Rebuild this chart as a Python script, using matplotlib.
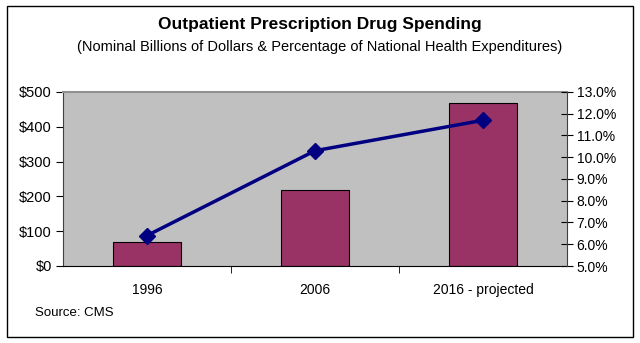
import numpy as np
import matplotlib.pyplot as plt
from matplotlib.patches import Rectangle
from matplotlib.ticker import FuncFormatter

plt.rcParams['font.family'] = ['Liberation Sans', 'DejaVu Sans']

years = ['1996', '2006', '2016 - projected']
spending = [68, 217, 469]          # nominal billions of dollars
share = [6.4, 10.3, 11.7]          # % of national health expenditures

fig = plt.figure(figsize=(6.4, 3.43), dpi=100)
fig.patches.append(Rectangle((7 / 640, 6 / 343), 626 / 640, 331 / 343,
                             transform=fig.transFigure, fill=False,
                             edgecolor='black', linewidth=1.0))

ax = fig.add_axes([63 / 640, 77 / 343, 504 / 640, 174 / 343])
ax.set_facecolor('#C0C0C0')
x = np.arange(len(years))
ax.bar(x, spending, width=0.41, color='#993366', edgecolor='black', linewidth=0.8, zorder=2)
ax.set_xlim(-0.5, 2.5)
ax.set_ylim(0, 500)
ax.set_yticks(np.arange(0, 501, 100))
ax.yaxis.set_major_formatter(FuncFormatter(lambda v, p: '${:.0f}'.format(v)))
ax.set_xticks(x)
ax.set_xticklabels(years)
ax.set_xticks([0.5, 1.5], minor=True)
ax.tick_params(axis='x', which='major', length=0, pad=12, labelsize=10)
ax.tick_params(axis='x', which='minor', length=5, direction='out', color='black')
ax.tick_params(axis='y', length=5, direction='out', labelsize=10.5, pad=3)
ax.spines['top'].set_color('#909090')
ax.spines['top'].set_linewidth(1.5)
ax.spines['right'].set_visible(False)
ax.spines['left'].set_color('#404040')
ax.spines['bottom'].set_color('black')

ax2 = ax.twinx()
ax2.plot(x, share, color='#000080', linewidth=2.5, marker='D', markersize=8,
         markerfacecolor='#000080', markeredgecolor='#000080', zorder=3)
ax2.set_ylim(5, 13)
ax2.set_yticks(np.arange(5, 13.1, 1))
ax2.yaxis.set_major_formatter(FuncFormatter(lambda v, p: '{:.1f}%'.format(v)))
ax2.tick_params(axis='y', length=8, direction='inout', labelsize=10, pad=3)
ax2.spines['right'].set_color('#404040')
ax2.spines['top'].set_visible(False)
ax2.spines['left'].set_visible(False)
ax2.spines['bottom'].set_visible(False)

fig.text(0.5, 1 - 25 / 343, 'Outpatient Prescription Drug Spending',
         ha='center', va='center', fontsize=12.5, fontweight='bold')
fig.text(0.5, 1 - 47 / 343,
         '(Nominal Billions of Dollars & Percentage of National Health Expenditures)',
         ha='center', va='center', fontsize=10.5)
fig.text(35 / 640, 1 - 313 / 343, 'Source: CMS', ha='left', va='center', fontsize=9.5)

fig.savefig('out.png', dpi=100)
